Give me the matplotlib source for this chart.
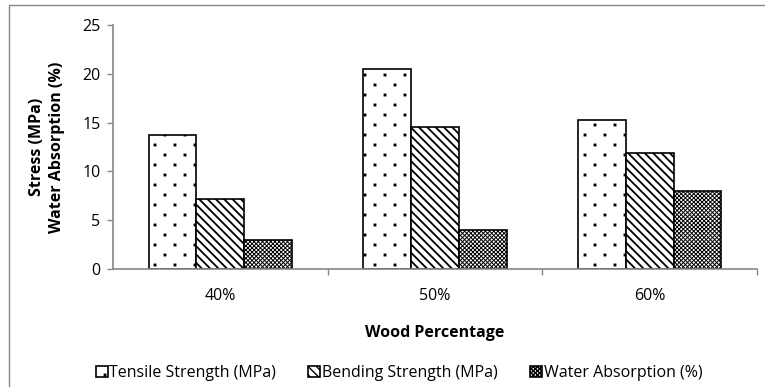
import numpy as np
import matplotlib
matplotlib.use("Agg")
import matplotlib.pyplot as plt
import matplotlib.hatch as mhatch
from matplotlib.path import Path
from matplotlib.patches import Rectangle

# Data
wood_pct = ["40%", "50%", "60%"]
tensile = [13.7, 20.5, 15.3]
bending = [7.2, 14.6, 11.9]
water = [3.0, 4.0, 8.0]
series_names = ["Tensile Strength (MPa)", "Bending Strength (MPa)", "Water Absorption (%)"]


class StaggeredDots(mhatch.HatchPatternBase):
    """Sparse staggered square dots used for the '.' hatch."""
    cols = 5
    rows = 10
    size = 0.015

    def __init__(self, hatch, density):
        self.num_dots = self.cols * self.rows if hatch.count('.') else 0
        self.num_vertices = self.num_dots * 5

    def set_vertices_and_codes(self, vertices, codes):
        sq = np.array([[0, 0], [1, 0], [1, 1], [0, 1], [0, 0]]) * self.size - self.size / 2
        k = 0
        for r in range(self.rows):
            y = (r + 0.5) / self.rows
            shift = 0.5 if r % 2 else 0.0
            for c in range(self.cols):
                x = (c + 0.25 + shift) / self.cols
                vertices[k * 5:(k + 1) * 5] = sq + [x, y]
                codes[k * 5:(k + 1) * 5] = [Path.MOVETO, Path.LINETO, Path.LINETO,
                                            Path.LINETO, Path.CLOSEPOLY]
                k += 1


mhatch._hatch_types = [StaggeredDots if t is mhatch.SmallFilledCircles else t
                       for t in mhatch._hatch_types]

plt.rcParams['font.family'] = ['Open Sans', 'DejaVu Sans']
plt.rcParams['font.size'] = 11.5
gray = '#868686'

fig = plt.figure(figsize=(7.65, 3.87), dpi=100)
ax = fig.add_axes([113 / 765, 118 / 387, 644 / 765, 244 / 387])

x = np.arange(len(wood_pct))
w = 0.223
styles = [('.', 1.0), ('\\\\\\\\', 1.3), ('xxxxxxxx', 0.7)]
for i, (vals, name, (hatch, hlw)) in enumerate(zip([tensile, bending, water], series_names, styles)):
    with plt.rc_context({'hatch.linewidth': hlw, 'hatch.color': 'black'}):
        ax.bar(x + (i - 1) * w, vals, width=w, facecolor='white', edgecolor='black',
               linewidth=1.2, hatch=hatch, label=name)

ax.set_xlim(-0.5, 2.5)
ax.set_ylim(0, 25)
ax.set_yticks(range(0, 26, 5))
ax.set_xticks(x)
ax.set_xticklabels(wood_pct)
ax.set_xticks([0.5, 1.5, 2.5], minor=True)
ax.tick_params(axis='x', which='major', length=0, pad=14)
ax.tick_params(axis='x', which='minor', length=4, width=1, color=gray, direction='out')
ax.tick_params(axis='y', length=4, width=1, color=gray, pad=5)
for side in ['top', 'right']:
    ax.spines[side].set_visible(False)
for side in ['left', 'bottom']:
    ax.spines[side].set_color(gray)
    ax.spines[side].set_linewidth(1.2)

ax.set_xlabel("Wood Percentage", fontweight='bold')
ax.xaxis.set_label_coords(0.5, -64 / 244)
ax.xaxis.label.set_va('center')

fig.text(47 / 765, 1 - 147 / 387, "Stress (MPa)\nWater Absorption (%)", rotation=90,
         ha='center', va='center', multialignment='center', fontweight='bold',
         linespacing=1.4)

fig.legend(loc='center', bbox_to_anchor=(399 / 765, 1 - 373 / 387), ncol=3, frameon=False,
           handlelength=0.75, handleheight=0.75, handletextpad=0.12, columnspacing=2.0,
           borderaxespad=0)

# outer chart border
fig.add_artist(Rectangle((9 / 765, -0.2), 1.2, 1.2 - 5 / 387, transform=fig.transFigure,
                         fill=False, edgecolor=gray, linewidth=1.0))

fig.savefig("out.png", dpi=100)
